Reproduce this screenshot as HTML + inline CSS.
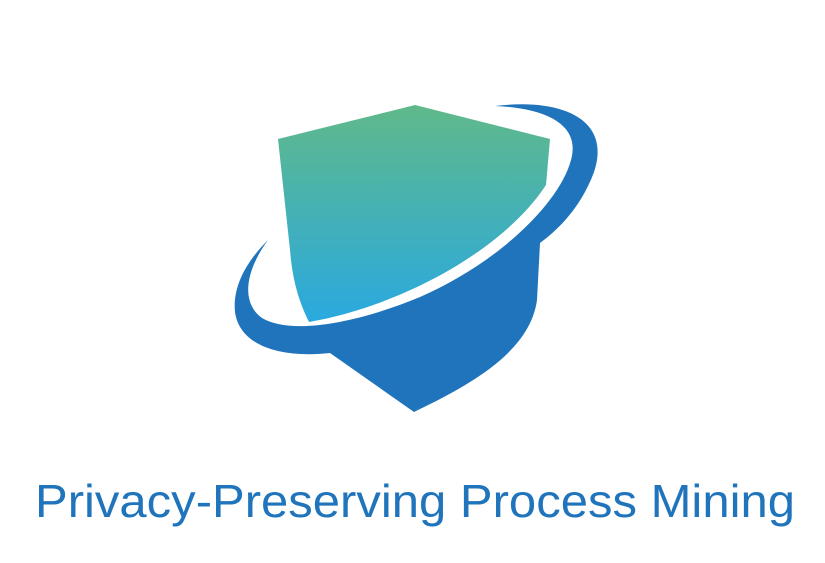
<!DOCTYPE html>
<html><head><meta charset="utf-8"><style>
html,body{margin:0;padding:0;background:#fff;}
svg{display:block;}
</style></head><body>
<svg width="825" height="563" viewBox="0 0 825 563" xmlns="http://www.w3.org/2000/svg">
<defs>
<linearGradient id="g" x1="0" y1="0" x2="0" y2="1">
<stop offset="0" stop-color="#60b98a"/>
<stop offset="1" stop-color="#2aa9e0"/>
</linearGradient>
</defs>
<path fill="#2074bb" d="M495,106 C560,98 612,118 594,172 C580,210 555,232 540,243 L537,300 C530,352 470,385 414,412 L330,353 C285,358 240,348 235,312 C232,282 252,256 268,240 C246,270 240,302 262,318 C292,336 360,322 420,297 C500,262 560,202 571,160 C581,124 545,108 495,106 Z"/>
<path fill="url(#g)" d="M278,139 L415,105 L550,139 L546,185 C505,248 405,305 309,322 C297,298 292,275 290,250 Z"/>
<text x="35" y="517" font-family="Liberation Sans, sans-serif" font-size="46" fill="#1f74bb" textLength="760" lengthAdjust="spacingAndGlyphs">Privacy-Preserving Process Mining</text>
</svg>
</body></html>
